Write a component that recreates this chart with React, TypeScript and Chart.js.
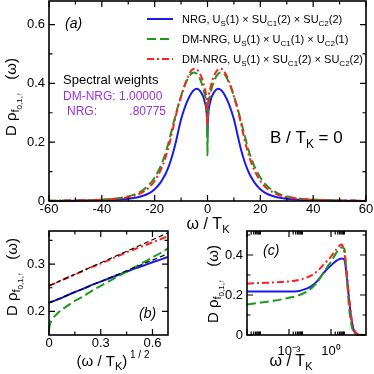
import React, { useEffect, useRef } from "react";
import { Chart, registerables } from "chart.js";

Chart.register(...registerables);

const FONT = "'Liberation Sans', Arial, Helvetica, sans-serif";
const BLUE = "#1a1aee";
const GREEN = "#1c9a1c";
const RED = "#ff2020";
const PURPLE = "#9933dd";
const GREEN_DASH = [9, 4];
const RED_DASH = [7, 3, 2, 3];

// ---------- panel (a): spectral function vs omega / T_K ----------
const A_OMEGA = [-60, -50, -40, -32, -28, -25, -22, -20, -18, -17, -16, -15, -14, -13, -12, -11, -10, -9, -8, -7, -6, -5, -4, -3, -2, -1.5, -1, -0.6, -0.3, -0.1,
  0,
  0.1, 0.3, 0.6, 1, 1.5, 2, 3, 4, 5, 6, 7, 8, 9, 10, 11, 12, 13, 14, 15, 16, 17, 18, 20, 22, 25, 28, 32, 40, 50, 60];
const A_NRG = [0.0, 0.001, 0.003, 0.006, 0.01, 0.016, 0.027, 0.04, 0.06, 0.074, 0.09, 0.11, 0.135, 0.165, 0.2, 0.24, 0.278, 0.307, 0.332, 0.352, 0.368, 0.378, 0.382, 0.376, 0.362, 0.352, 0.335, 0.32, 0.295, 0.262,
  0.215,
  0.262, 0.295, 0.32, 0.335, 0.352, 0.362, 0.376, 0.382, 0.378, 0.368, 0.352, 0.332, 0.307, 0.278, 0.24, 0.2, 0.165, 0.135, 0.11, 0.09, 0.074, 0.06, 0.04, 0.027, 0.016, 0.01, 0.006, 0.003, 0.001, 0.0];
const A_DMNRG_U1 = [0.001, 0.002, 0.005, 0.012, 0.021, 0.034, 0.056, 0.08, 0.113, 0.135, 0.16, 0.19, 0.225, 0.26, 0.295, 0.328, 0.357, 0.383, 0.405, 0.423, 0.434, 0.437, 0.432, 0.418, 0.395, 0.38, 0.36, 0.342, 0.3, 0.25,
  0.155,
  0.25, 0.3, 0.342, 0.36, 0.38, 0.395, 0.418, 0.432, 0.437, 0.434, 0.423, 0.405, 0.383, 0.357, 0.328, 0.295, 0.26, 0.225, 0.19, 0.16, 0.135, 0.113, 0.08, 0.056, 0.034, 0.021, 0.012, 0.005, 0.002, 0.001];
const A_DMNRG_SU2 = [0.001, 0.002, 0.004, 0.01, 0.017, 0.028, 0.047, 0.068, 0.1, 0.12, 0.145, 0.175, 0.21, 0.25, 0.29, 0.325, 0.355, 0.385, 0.41, 0.43, 0.445, 0.45, 0.447, 0.435, 0.415, 0.4, 0.38, 0.365, 0.34, 0.3,
  0.254,
  0.3, 0.34, 0.365, 0.38, 0.4, 0.415, 0.435, 0.447, 0.45, 0.445, 0.43, 0.41, 0.385, 0.355, 0.325, 0.29, 0.25, 0.21, 0.175, 0.145, 0.12, 0.1, 0.068, 0.047, 0.028, 0.017, 0.01, 0.004, 0.002, 0.001];
const A_X_TICKS = [-60, -40, -20, 0, 20, 40, 60];
const A_X_MINOR = [-50, -30, -10, 10, 30, 50];
const A_Y_TICKS = [0, 0.2, 0.4, 0.6];
const A_Y_MINOR = [0.1, 0.3, 0.5];

// ---------- panel (b): vs (omega / T_K)^(1/2) ----------
const B_SQRT_OMEGA = [0, 0.005, 0.02, 0.05, 0.1, 0.15, 0.2, 0.25, 0.3, 0.35, 0.4, 0.45, 0.5, 0.55, 0.6, 0.65, 0.69];
const B_NRG = [0.218, 0.219, 0.221, 0.225, 0.233, 0.241, 0.248, 0.256, 0.263, 0.27, 0.277, 0.284, 0.291, 0.297, 0.304, 0.31, 0.315];
const B_DMNRG_U1 = [0.162, 0.172, 0.184, 0.196, 0.21, 0.222, 0.232, 0.244, 0.254, 0.264, 0.274, 0.284, 0.294, 0.304, 0.314, 0.324, 0.333];
const B_DMNRG_SU2 = [0.254, 0.255, 0.257, 0.262, 0.27, 0.278, 0.286, 0.294, 0.301, 0.309, 0.317, 0.325, 0.332, 0.339, 0.346, 0.353, 0.359];
const B_FIT_X = [0, 0.69];
const B_FIT_NRG = [0.218, 0.322];
const B_FIT_DMNRG = [0.254, 0.366];
const B_X_TICKS = [0, 0.3, 0.6];
const B_X_MINOR = [0.15, 0.45];
const B_Y_TICKS = [0.2, 0.3];
const B_Y_MINOR = [0.25, 0.35];

// ---------- panel (c): log omega axis ----------
const C_OMEGA = [1e-6, 1e-5, 1e-4, 1e-3, 4e-3, 0.018, 0.04, 0.1, 0.28, 0.6, 1, 2.5, 5.7, 9, 13, 20, 30, 50, 90, 316];
const C_NRG = [0.218, 0.218, 0.218, 0.218, 0.219, 0.232, 0.244, 0.268, 0.308, 0.334, 0.348, 0.372, 0.383, 0.376, 0.3, 0.17, 0.07, 0.012, 0.001, 0];
const C_DMNRG_U1 = [0.152, 0.162, 0.172, 0.186, 0.196, 0.216, 0.234, 0.263, 0.31, 0.345, 0.365, 0.413, 0.438, 0.432, 0.3, 0.13, 0.045, 0.008, 0.001, 0];
const C_DMNRG_SU2 = [0.257, 0.26, 0.263, 0.268, 0.274, 0.287, 0.298, 0.318, 0.35, 0.375, 0.392, 0.43, 0.452, 0.41, 0.32, 0.18, 0.08, 0.02, 0.003, 0];
const C_X_MAJOR = [1e-6, 1e-3, 1, 1000];
const C_X_LABELED = [1e-3, 1];
const C_X_LABELS = ["10\u207B\u00B3", "10\u2070"];
const C_Y_TICKS = [0, 0.2, 0.4];
const C_Y_MINOR = [0.1, 0.3, 0.5];

// ---------- text ----------
type Seg = { t: string; size?: number; dy?: number; italic?: boolean };
type RichItem = { x: number; y: number; segs: Seg[]; size: number; color?: string; align?: "left" | "center" | "right"; rot?: number };

const sub = (t: string): Seg => ({ t, size: 8, dy: 3 });
const LEGEND = [
  { color: BLUE, dash: [] as number[], segs: [{ t: "NRG, U" }, sub("S"), { t: "(1) \u00D7 SU" }, sub("C1"), { t: "(2) \u00D7 SU" }, sub("C2"), { t: "(2)" }] },
  { color: GREEN, dash: GREEN_DASH, segs: [{ t: "DM-NRG, U" }, sub("S"), { t: "(1) \u00D7 U" }, sub("C1"), { t: "(1) \u00D7 U" }, sub("C2"), { t: "(1)" }] },
  { color: RED, dash: RED_DASH, segs: [{ t: "DM-NRG, U" }, sub("S"), { t: "(1) \u00D7 SU" }, sub("C1"), { t: "(2) \u00D7 SU" }, sub("C2"), { t: "(2)" }] },
];

const Y_TITLE: Seg[] = [{ t: "D " }, { t: "\u03C1" }, { t: "f", size: 11, dy: 3 }, { t: "0,1,\u2191", size: 8, dy: 6 }, { t: "   (\u03C9)" }];
const X_TITLE: Seg[] = [{ t: "\u03C9 / T" }, { t: "K", size: 11, dy: 4 }];
const X_TITLE_SQRT: Seg[] = [{ t: "(\u03C9 / T" }, { t: "K", size: 11, dy: 4 }, { t: ")" }, { t: " 1 / 2", size: 10, dy: -8 }];

function drawRich(ctx: CanvasRenderingContext2D, it: RichItem) {
  ctx.save();
  ctx.translate(it.x, it.y);
  if (it.rot) ctx.rotate(it.rot);
  ctx.textBaseline = "alphabetic";
  ctx.textAlign = "left";
  ctx.fillStyle = it.color || "#000";
  const f = (s: Seg) => `${s.italic ? "italic " : ""}${s.size || it.size}px ${FONT}`;
  let w = 0;
  for (const s of it.segs) { ctx.font = f(s); w += ctx.measureText(s.t).width; }
  let x = it.align === "center" ? -w / 2 : it.align === "right" ? -w : 0;
  for (const s of it.segs) {
    ctx.font = f(s);
    ctx.fillText(s.t, x, s.dy || 0);
    x += ctx.measureText(s.t).width;
  }
  ctx.restore();
}

type AxisSpec = { type: "linear" | "logarithmic"; min: number; max: number; ticks: number[]; fmt: (v: number) => string; major: number[]; minor: number[]; pad: number };
type PanelSpec = {
  area: { left: number; top: number; right: number; bottom: number };
  x: AxisSpec; y: AxisSpec;
  datasets: any[];
  texts: RichItem[];
  legend?: boolean;
};

function overlay(spec: PanelSpec) {
  return {
    id: "overlay",
    afterDraw(chart: any) {
      const ctx: CanvasRenderingContext2D = chart.ctx;
      const { left, right, top, bottom } = chart.chartArea;
      const xs = chart.scales.x, ys = chart.scales.y;
      ctx.save();
      ctx.strokeStyle = "#000";
      ctx.lineWidth = 1.2;
      const tick = (vals: number[], len: number) => {
        for (const v of vals) {
          const px = xs.getPixelForValue(v);
          if (px < left - 0.5 || px > right + 0.5) continue;
          ctx.beginPath();
          ctx.moveTo(px, bottom); ctx.lineTo(px, bottom - len);
          ctx.moveTo(px, top); ctx.lineTo(px, top + len);
          ctx.stroke();
        }
      };
      const ytick = (vals: number[], len: number) => {
        for (const v of vals) {
          const py = ys.getPixelForValue(v);
          if (py < top - 0.5 || py > bottom + 0.5) continue;
          ctx.beginPath();
          ctx.moveTo(left, py); ctx.lineTo(left + len, py);
          ctx.moveTo(right, py); ctx.lineTo(right - len, py);
          ctx.stroke();
        }
      };
      tick(spec.x.major, 6); tick(spec.x.minor, 3.5);
      ytick(spec.y.major, 6); ytick(spec.y.minor, 3.5);
      ctx.lineWidth = 1.6;
      ctx.strokeRect(left, top, right - left, bottom - top);
      if (spec.legend) {
        LEGEND.forEach((row, i) => {
          const y = 19 + i * 20;
          ctx.beginPath();
          ctx.strokeStyle = row.color;
          ctx.lineWidth = 2;
          ctx.setLineDash(row.dash);
          ctx.moveTo(147, y); ctx.lineTo(173, y);
          ctx.stroke();
          ctx.setLineDash([]);
          drawRich(ctx, { x: 182, y: y + 4, size: 11, segs: row.segs });
        });
      }
      ctx.restore();
      for (const t of spec.texts) drawRich(ctx, t);
    },
  };
}

function buildChart(canvas: HTMLCanvasElement, spec: PanelSpec) {
  const W = 374, H = 374, yW = 40, xH = 24;
  const axis = (a: AxisSpec, isX: boolean) => ({
    type: a.type,
    min: a.min,
    max: a.max,
    grid: { display: false, drawTicks: false },
    border: { display: false },
    ticks: {
      autoSkip: false, maxRotation: 0, minRotation: 0, padding: a.pad, color: "#000",
      font: { family: FONT, size: 13 },
      callback: (v: any) => a.fmt(Number(v)),
    },
    afterBuildTicks: (s: any) => { s.ticks = a.ticks.map((v) => ({ value: v })); },
    afterFit: (s: any) => {
      if (isX) { s.height = xH; s.paddingLeft = 0; s.paddingRight = 0; }
      else { s.width = yW; s.paddingTop = 0; s.paddingBottom = 0; }
    },
  });
  return new Chart(canvas, {
    type: "line",
    data: { datasets: spec.datasets },
    options: {
      responsive: false,
      animation: false,
      devicePixelRatio: 1,
      events: [],
      layout: { padding: { left: spec.area.left - yW, top: spec.area.top, right: W - spec.area.right, bottom: H - spec.area.bottom - xH } },
      plugins: { legend: { display: false }, tooltip: { enabled: false }, title: { display: false } },
      elements: { point: { radius: 0 }, line: { cubicInterpolationMode: "monotone", borderWidth: 2 } },
      scales: { x: axis(spec.x, true) as any, y: axis(spec.y, false) as any },
    },
    plugins: [overlay(spec)],
  } as any);
}

const pts = (xs: number[], ys: number[]) => xs.map((x, i) => ({ x, y: ys[i] }));
const ds = (label: string, xs: number[], ys: number[], color: string, dash: number[], order: number, width = 2) => ({
  label, data: pts(xs, ys), borderColor: color, borderDash: dash, borderWidth: width, fill: false, order, clip: 1,
});
const fmt1 = (v: number) => (v === 0 ? "0" : v.toFixed(1));

const PANEL_A: PanelSpec = {
  area: { left: 49, top: 1, right: 366, bottom: 201 },
  x: { type: "linear", min: -60, max: 60, ticks: A_X_TICKS, fmt: (v) => String(v), major: A_X_TICKS, minor: A_X_MINOR, pad: 1 },
  y: { type: "linear", min: 0, max: 0.68, ticks: A_Y_TICKS, fmt: fmt1, major: A_Y_TICKS, minor: A_Y_MINOR, pad: 4 },
  datasets: [
    ds("NRG, U_S(1) x SU_C1(2) x SU_C2(2)", A_OMEGA, A_NRG, BLUE, [], 3),
    ds("DM-NRG, U_S(1) x U_C1(1) x U_C2(1)", A_OMEGA, A_DMNRG_U1, GREEN, GREEN_DASH, 2),
    ds("DM-NRG, U_S(1) x SU_C1(2) x SU_C2(2)", A_OMEGA, A_DMNRG_SU2, RED, RED_DASH, 1),
  ],
  legend: true,
  texts: [
    { x: 65, y: 28, size: 14, segs: [{ t: "(a)", italic: true }] },
    { x: 63, y: 84, size: 13, segs: [{ t: "Spectral weights" }] },
    { x: 63, y: 100, size: 12, color: PURPLE, segs: [{ t: "DM-NRG: 1.00000" }] },
    { x: 67, y: 115, size: 12, color: PURPLE, segs: [{ t: "NRG:" }] },
    { x: 166, y: 115, size: 12, color: PURPLE, align: "right", segs: [{ t: ".80775" }] },
    { x: 270, y: 143, size: 17, segs: [{ t: "B / T" }, { t: "K", size: 12, dy: 5 }, { t: " = 0" }] },
    { x: 16, y: 97, size: 15, rot: -Math.PI / 2, align: "center", segs: Y_TITLE },
    { x: 208, y: 229, size: 16, align: "center", segs: X_TITLE },
  ],
};

const PANEL_B: PanelSpec = {
  area: { left: 49, top: 231, right: 168, bottom: 335 },
  x: { type: "linear", min: 0, max: 0.69, ticks: B_X_TICKS, fmt: fmt1, major: B_X_TICKS, minor: B_X_MINOR, pad: 1 },
  y: { type: "linear", min: 0.15, max: 0.37, ticks: B_Y_TICKS, fmt: fmt1, major: B_Y_TICKS, minor: B_Y_MINOR, pad: 4 },
  datasets: [
    ds("NRG", B_SQRT_OMEGA, B_NRG, BLUE, [], 3),
    ds("DM-NRG U(1)", B_SQRT_OMEGA, B_DMNRG_U1, GREEN, GREEN_DASH, 2),
    ds("DM-NRG SU(2)", B_SQRT_OMEGA, B_DMNRG_SU2, RED, RED_DASH, 1),
    ds("fit NRG", B_FIT_X, B_FIT_NRG, "#000", [5, 3], 0, 1.2),
    ds("fit DM-NRG", B_FIT_X, B_FIT_DMNRG, "#000", [5, 3], 0, 1.2),
  ],
  texts: [
    { x: 139, y: 318, size: 14, segs: [{ t: "(b)", italic: true }] },
    { x: 16.5, y: 277, size: 15, rot: -Math.PI / 2, align: "center", segs: Y_TITLE },
    { x: 113, y: 366, size: 15, align: "center", segs: X_TITLE_SQRT },
  ],
};

const C_X_MINOR = C_X_MAJOR.flatMap((m) => [2, 3, 4, 5, 6, 7, 8, 9].map((k) => k * m));

const PANEL_C: PanelSpec = {
  area: { left: 247, top: 231, right: 366, bottom: 335 },
  x: {
    type: "logarithmic", min: 1e-6, max: 316.2, ticks: C_X_LABELED,
    fmt: (v) => C_X_LABELS[C_X_LABELED.findIndex((t) => Math.abs(Math.log10(t) - Math.log10(v)) < 1e-6)] || "",
    major: C_X_MAJOR, minor: C_X_MINOR, pad: 9,
  },
  y: { type: "linear", min: 0, max: 0.52, ticks: C_Y_TICKS, fmt: fmt1, major: C_Y_TICKS, minor: C_Y_MINOR, pad: 4 },
  datasets: [
    ds("NRG", C_OMEGA, C_NRG, BLUE, [], 3),
    ds("DM-NRG U(1)", C_OMEGA, C_DMNRG_U1, GREEN, GREEN_DASH, 2),
    ds("DM-NRG SU(2)", C_OMEGA, C_DMNRG_SU2, RED, RED_DASH, 1),
  ],
  texts: [
    { x: 263, y: 255, size: 14, segs: [{ t: "(c)", italic: true }] },
    { x: 217.5, y: 284, size: 15, rot: -Math.PI / 2, align: "center", segs: Y_TITLE },
    { x: 291, y: 366, size: 16, align: "center", segs: X_TITLE },
  ],
};

function Panel({ spec }: { spec: PanelSpec }) {
  const ref = useRef<HTMLCanvasElement>(null);
  useEffect(() => {
    const chart = buildChart(ref.current!, spec);
    return () => chart.destroy();
  }, [spec]);
  return <canvas ref={ref} width={374} height={374} style={{ position: "absolute", left: 0, top: 0, width: 374, height: 374 }} />;
}

export default function App() {
  return (
    <div style={{ position: "fixed", left: 0, top: 0, width: 374, height: 374, background: "#fff", overflow: "hidden" }}>
      <Panel spec={PANEL_A} />
      <Panel spec={PANEL_B} />
      <Panel spec={PANEL_C} />
    </div>
  );
}
